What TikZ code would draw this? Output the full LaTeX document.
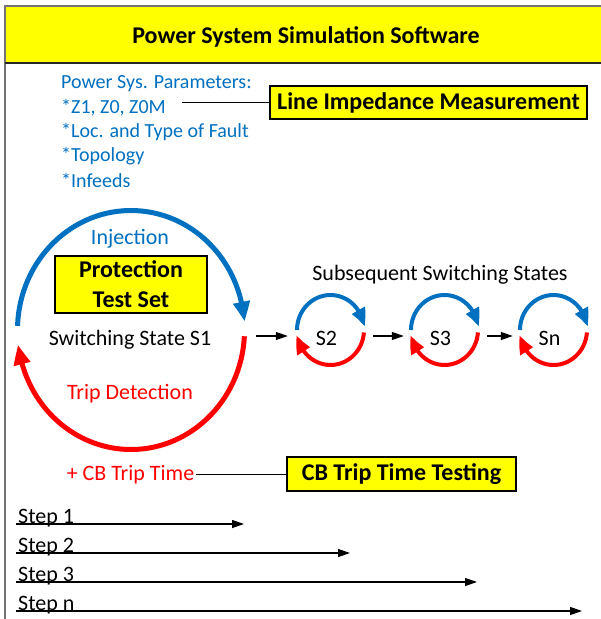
\documentclass[tikz,border=0pt]{standalone}
\usepackage{fontspec}
\setmainfont{Carlito}
\usepackage{tikz}
\usetikzlibrary{arrows.meta, positioning, bending, shapes.geometric}
\definecolor{ppblue}{HTML}{0070C0}
\definecolor{ppred}{HTML}{FF0000}
\definecolor{ppyellow}{HTML}{FFFF00}

\begin{document}
\begin{tikzpicture}[x=1pt, y=-1pt]
        % Styles
        \tikzstyle{yellowbox} = [draw, fill=ppyellow, line width=1.2pt, font=\fontsize{24}{30}\selectfont\bfseries, align=center, inner sep=0pt]
        \tikzstyle{bluetext} = [text=ppblue, font=\fontsize{20}{24}\selectfont, anchor=west, inner sep=0pt]
        \tikzstyle{plaintext} = [font=\fontsize{22}{26}\selectfont, inner sep=0pt]
        \tikzstyle{arrow} = [-{Triangle[length=12pt, width=8pt]}, line width=1.2pt]
        \tikzstyle{bigring} = [line width=5pt, -{Triangle[length=20pt, width=16pt, bend]}]
        \tikzstyle{smallring} = [line width=4pt, -{Triangle[length=18pt, width=14pt, bend]}]

        \useasboundingbox (0,0) rectangle (601,619);
        \fill[white] (0,0) rectangle (601,619);

        % Frame and header
        \fill[ppyellow] (5,6) rectangle (601,63);
        \draw[black!55, line width=1.2pt] (601,6) -- (5,6) -- (5,619);
        \draw[black!85, line width=1.5pt] (5,63) -- (601,63);
        \node[font=\fontsize{24}{30}\selectfont\bfseries] (title) at (306,37) {Power System Simulation Software};

        % Parameters
        \node[bluetext] (p1) at (61,84) {Power Sys. Parameters:};
        \node[bluetext] (p2) at (61,108) {*Z1, Z0, Z0M};
        \node[bluetext] (p3) at (61,132) {*Loc. and Type of Fault};
        \node[bluetext] (p4) at (61,156) {*Topology};
        \node[bluetext] (p5) at (61,180) {*Infeeds};
        \node[yellowbox, minimum width=317pt, minimum height=33pt] (lim) at (428.5,102.5) {Line Impedance Measurement};
        \draw[line width=1pt, shorten <=16pt] (p2.east |- lim.west) -- (lim.west);

        % Switching state S1
        \coordinate (c1) at (131,330);
        \node[ellipse, minimum width=232pt, minimum height=244pt, inner sep=0pt] (ring1) at (c1) {};
        \draw[bigring, ppblue] (c1) ++(182:113.5 and 119.5) arc[start angle=182, end angle=356, x radius=113.5, y radius=119.5];
        \draw[bigring, ppred] (c1) ++(3:113.5 and 119.5) arc[start angle=3, end angle=173, x radius=113.5, y radius=119.5];
        \node[plaintext, text=ppblue] (inj) at (130,239) {Injection};
        \node[yellowbox, minimum width=152pt, minimum height=57pt] (pts) at (131,284.5) {Protection\\Test Set};
        \node[plaintext] (s1) at (130,340) {Switching State S1};
        \node[plaintext, text=ppred] (trip) at (130,394) {Trip Detection};

        % Subsequent states
        \node[plaintext] (subs) at (440,275) {Subsequent Switching States};
        \foreach \name/\cx/\txt in {s2/330.5/S2, s3/444.5/S3, sn/553.5/Sn} {
            \coordinate (c\name) at (\cx,330);
            \node[ellipse, minimum width=71pt, minimum height=74pt, inner sep=0pt] (r\name) at (c\name) {};
            \draw[smallring, ppblue] (c\name) ++(180:33.5 and 35) arc[start angle=180, end angle=355, x radius=33.5, y radius=35];
            \draw[smallring, ppred] (c\name) ++(4:33.5 and 35) arc[start angle=4, end angle=172, x radius=33.5, y radius=35];
            \node[plaintext] (\name) at (\cx-4,338) {\txt};
        }

        % Arrows
        \draw[arrow, shorten <=9pt, shorten >=7pt] ([yshift=-6pt]ring1.east) -- ([yshift=-6pt]rs2.west);
        \draw[arrow, shorten <=7pt, shorten >=5pt] ([yshift=-6pt]rs2.east) -- ([yshift=-6pt]rs3.west);
        \draw[arrow, shorten <=7pt, shorten >=5pt] ([yshift=-6pt]rs3.east) -- ([yshift=-6pt]rsn.west);

        % Trip time
        \node[plaintext, text=ppred] (cbtime) at (130.5,475) {+ CB Trip Time};
        \node[yellowbox, minimum width=229pt, minimum height=34pt] (cbtest) at (401.5,474) {CB Trip Time Testing};
        \draw[line width=1pt, shorten <=2pt] (cbtime.east |- cbtest.west) -- (cbtest.west);

        % Steps
        \foreach \i/\y/\xend in {1/524/244, 2/553/350, 3/582/477, n/611/582} {
            \node[plaintext, anchor=base west] (step\i) at (18,\y-1) {Step \i};
            \coordinate (stepstart\i) at (16,\y);
            \coordinate (stepend\i) at (\xend,\y);
            \draw[arrow] (stepstart\i) -- (stepend\i);
        }
\end{tikzpicture}
\end{document}
